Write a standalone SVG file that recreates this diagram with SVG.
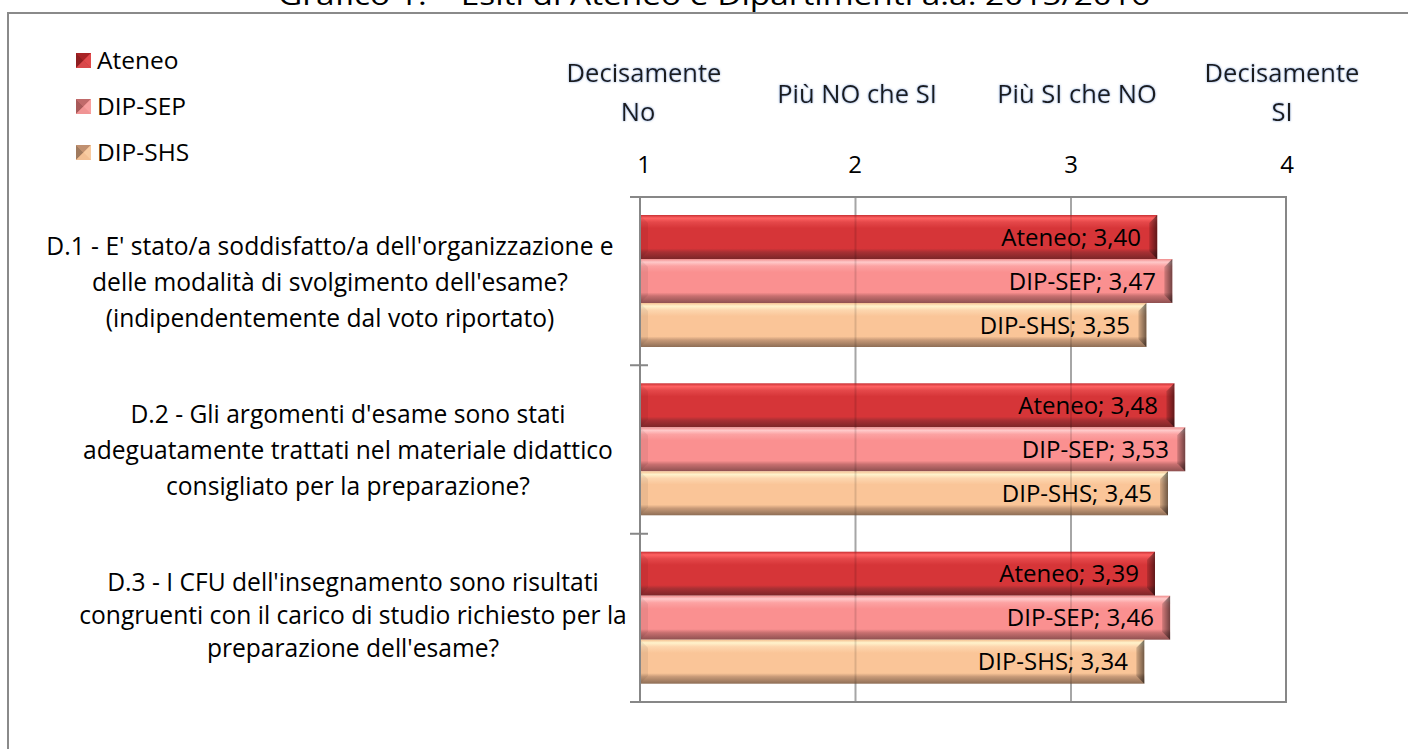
<svg xmlns="http://www.w3.org/2000/svg" width="1408" height="749" viewBox="0 0 1408 749">
<defs>
<style>
text{font-family:"Open Sans","Noto Sans","Liberation Sans",sans-serif;fill:#000}
.t24{font-size:24.5px}
.hdr{font-size:25.5px;fill:#1E1E1E;text-anchor:middle}
.num{font-size:24px;text-anchor:middle}
.lbl{font-size:24.6px;text-anchor:middle}
.dl{font-size:24px;text-anchor:end}
.grid{stroke:#A6A6A6;stroke-width:2}
.gridover{stroke:#000;stroke-opacity:0.12;stroke-width:2}
.ax{stroke:#878787;stroke-width:2;fill:none}
.ate{fill:url(#gAte)}
.sep{fill:url(#gSep)}
.shs{fill:url(#gShs)}
.rb{fill:url(#gRight)}
.lb{fill:#000;fill-opacity:0.06}
</style>
<linearGradient id="gAte" x1="0" y1="0" x2="0" y2="1">
<stop offset="0" stop-color="#C83034"/>
<stop offset="0.07" stop-color="#FF6262"/>
<stop offset="0.16" stop-color="#E5484A"/>
<stop offset="0.3" stop-color="#D63538"/>
<stop offset="0.76" stop-color="#D63538"/>
<stop offset="0.84" stop-color="#A83034"/>
<stop offset="1" stop-color="#7C2628"/>
</linearGradient>
<linearGradient id="gSep" x1="0" y1="0" x2="0" y2="1">
<stop offset="0" stop-color="#F08C8C"/>
<stop offset="0.07" stop-color="#FFCACA"/>
<stop offset="0.16" stop-color="#FCA2A2"/>
<stop offset="0.3" stop-color="#FA9090"/>
<stop offset="0.76" stop-color="#FA9090"/>
<stop offset="0.84" stop-color="#C87070"/>
<stop offset="1" stop-color="#8E5050"/>
</linearGradient>
<linearGradient id="gShs" x1="0" y1="0" x2="0" y2="1">
<stop offset="0" stop-color="#F5C090"/>
<stop offset="0.07" stop-color="#FFF3CC"/>
<stop offset="0.16" stop-color="#FDD6AE"/>
<stop offset="0.3" stop-color="#FAC598"/>
<stop offset="0.76" stop-color="#FAC598"/>
<stop offset="0.84" stop-color="#C89A78"/>
<stop offset="1" stop-color="#8E6E56"/>
</linearGradient>
<linearGradient id="gRight" x1="0" y1="0" x2="1" y2="0">
<stop offset="0" stop-color="#000" stop-opacity="0.15"/>
<stop offset="1" stop-color="#000" stop-opacity="0.55"/>
</linearGradient>
<filter id="glow" x="-10%" y="-40%" width="120%" height="180%">
<feDropShadow dx="0" dy="0" stdDeviation="1.3" flood-color="#5B84C4" flood-opacity="0.7"/>
</filter>
</defs>
<rect x="0" y="0" width="1408" height="749" fill="#fff"/>

<g id="title">
<text x="278" y="5" font-size="27" textLength="872" lengthAdjust="spacingAndGlyphs">Grafico 1. – Esiti di Ateneo e Dipartimenti a.a. 2015/2016</text>
</g>

<g id="chart-frame">
<path d="M8,749 V13 H1408" stroke="#8A8A8A" stroke-width="2" fill="none"/>
</g>

<g id="legend">
<g id="legend-ateneo">
<rect x="76" y="53" width="15" height="15" fill="#C8282C"/>
<polygon points="76,53 91,53 83.5,60.5" fill="#A82326"/>
<polygon points="76,53 83.5,60.5 76,68" fill="#8E1E20"/>
<polygon points="76,68 91,68 83.5,60.5" fill="#D8484A"/>
<polygon points="91,53 91,68 83.5,60.5" fill="#E04A4C"/>
<text class="t24" x="97" y="68.5">Ateneo</text>
</g>
<g id="legend-dipsep">
<rect x="76" y="99" width="15" height="15" fill="#F08888"/>
<polygon points="76,99 91,99 83.5,106.5" fill="#C06A6A"/>
<polygon points="76,99 83.5,106.5 76,114" fill="#A85A5A"/>
<polygon points="76,114 91,114 83.5,106.5" fill="#F09494"/>
<polygon points="91,99 91,114 83.5,106.5" fill="#F8A0A0"/>
<text class="t24" x="97" y="114.5">DIP-SEP</text>
</g>
<g id="legend-dipshs">
<rect x="76" y="145" width="15" height="15" fill="#F0B888"/>
<polygon points="76,145 91,145 83.5,152.5" fill="#C09070"/>
<polygon points="76,145 83.5,152.5 76,160" fill="#A07A5E"/>
<polygon points="76,160 91,160 83.5,152.5" fill="#F2C094"/>
<polygon points="91,145 91,160 83.5,152.5" fill="#F8CCA2"/>
<text class="t24" x="97" y="160.5">DIP-SHS</text>
</g>
</g>

<g id="scale-header" filter="url(#glow)">
<text class="hdr" x="644" y="82">Decisamente</text>
<text class="hdr" x="638" y="121">No</text>
<text class="hdr" x="857" y="103">Più NO che SI</text>
<text class="hdr" x="1077" y="103">Più SI che NO</text>
<text class="hdr" x="1282" y="82">Decisamente</text>
<text class="hdr" x="1282" y="121">SI</text>
</g>
<g id="scale-numbers">
<text class="num" x="644" y="173">1</text>
<text class="num" x="855" y="173">2</text>
<text class="num" x="1071" y="173">3</text>
<text class="num" x="1287" y="173">4</text>
</g>

<g id="grid">
<line class="grid" x1="855.5" y1="197" x2="855.5" y2="702"/>
<line class="grid" x1="1071" y1="197" x2="1071" y2="702"/>
</g>

<g id="series-ateneo">
<rect class="ate" x="640" y="215" width="517.2" height="44"/>
<rect class="ate" x="640" y="383.3" width="534.4" height="44"/>
<rect class="ate" x="640" y="551.7" width="515" height="44"/>
</g>
<g id="series-dipsep">
<rect class="sep" x="640" y="259" width="532.3" height="44"/>
<rect class="sep" x="640" y="427.3" width="545.2" height="44"/>
<rect class="sep" x="640" y="595.7" width="530.1" height="44"/>
</g>
<g id="series-dipshs">
<rect class="shs" x="640" y="303" width="506.4" height="44"/>
<rect class="shs" x="640" y="471.3" width="528" height="44"/>
<rect class="shs" x="640" y="639.7" width="504.3" height="44"/>
</g>
<g id="bevels">
<polygon class="rb" points="1149.2,223 1157.2,215 1157.2,259 1149.2,251"/>
<polygon class="rb" points="1164.3,267 1172.3,259 1172.3,303 1164.3,295"/>
<polygon class="rb" points="1138.4,311 1146.4,303 1146.4,347 1138.4,339"/>
<polygon class="rb" points="1166.4,391.3 1174.4,383.3 1174.4,427.3 1166.4,419.3"/>
<polygon class="rb" points="1177.2,435.3 1185.2,427.3 1185.2,471.3 1177.2,463.3"/>
<polygon class="rb" points="1160,479.3 1168,471.3 1168,515.3 1160,507.3"/>
<polygon class="rb" points="1147,559.7 1155,551.7 1155,595.7 1147,587.7"/>
<polygon class="rb" points="1162.1,603.7 1170.1,595.7 1170.1,639.7 1162.1,631.7"/>
<polygon class="rb" points="1136.3,647.7 1144.3,639.7 1144.3,683.7 1136.3,675.7"/>
<polygon class="lb" points="640,215 648,223 648,251 640,259"/>
<polygon class="lb" points="640,259 648,267 648,295 640,303"/>
<polygon class="lb" points="640,303 648,311 648,339 640,347"/>
<polygon class="lb" points="640,383.3 648,391.3 648,419.3 640,427.3"/>
<polygon class="lb" points="640,427.3 648,435.3 648,463.3 640,471.3"/>
<polygon class="lb" points="640,471.3 648,479.3 648,507.3 640,515.3"/>
<polygon class="lb" points="640,551.7 648,559.7 648,587.7 640,595.7"/>
<polygon class="lb" points="640,595.7 648,603.7 648,631.7 640,639.7"/>
<polygon class="lb" points="640,639.7 648,647.7 648,675.7 640,683.7"/>
</g>

<g id="grid-over">
<line class="gridover" x1="855.5" y1="215" x2="855.5" y2="347"/>
<line class="gridover" x1="1071" y1="215" x2="1071" y2="347"/>
<line class="gridover" x1="855.5" y1="383.3" x2="855.5" y2="515.3"/>
<line class="gridover" x1="1071" y1="383.3" x2="1071" y2="515.3"/>
<line class="gridover" x1="855.5" y1="551.7" x2="855.5" y2="683.7"/>
<line class="gridover" x1="1071" y1="551.7" x2="1071" y2="683.7"/>
</g>

<g id="data-labels">
<text class="dl" x="1141" y="245.5">Ateneo; 3,40</text>
<text class="dl" x="1156" y="289.5">DIP-SEP; 3,47</text>
<text class="dl" x="1130" y="333.5">DIP-SHS; 3,35</text>
<text class="dl" x="1158" y="413.8">Ateneo; 3,48</text>
<text class="dl" x="1169" y="457.8">DIP-SEP; 3,53</text>
<text class="dl" x="1152" y="501.8">DIP-SHS; 3,45</text>
<text class="dl" x="1139" y="582.2">Ateneo; 3,39</text>
<text class="dl" x="1154" y="626.2">DIP-SEP; 3,46</text>
<text class="dl" x="1128" y="670.2">DIP-SHS; 3,34</text>
</g>

<g id="plot-frame">
<path class="ax" d="M640,197 V702"/>
<path d="M640,197 H1286 V702 H640" stroke="#878787" stroke-width="2" fill="none"/>
<path class="ax" d="M630,197 H648 M630,365.3 H648 M630,533.7 H648 M630,702 H648"/>
</g>

<g id="cat-d1">
<text class="lbl" x="330" y="255">D.1 - E' stato/a soddisfatto/a dell'organizzazione e</text>
<text class="lbl" x="330" y="291">delle modalità di svolgimento dell'esame?</text>
<text class="lbl" x="330" y="327">(indipendentemente dal voto riportato)</text>
</g>
<g id="cat-d2">
<text class="lbl" x="348" y="423">D.2 - Gli argomenti d'esame sono stati</text>
<text class="lbl" x="348" y="459">adeguatamente trattati nel materiale didattico</text>
<text class="lbl" x="348" y="495">consigliato per la preparazione?</text>
</g>
<g id="cat-d3">
<text class="lbl" x="353" y="591">D.3 - I CFU dell'insegnamento sono risultati</text>
<text class="lbl" x="353" y="624">congruenti con il carico di studio richiesto per la</text>
<text class="lbl" x="353" y="657">preparazione dell'esame?</text>
</g>
</svg>
